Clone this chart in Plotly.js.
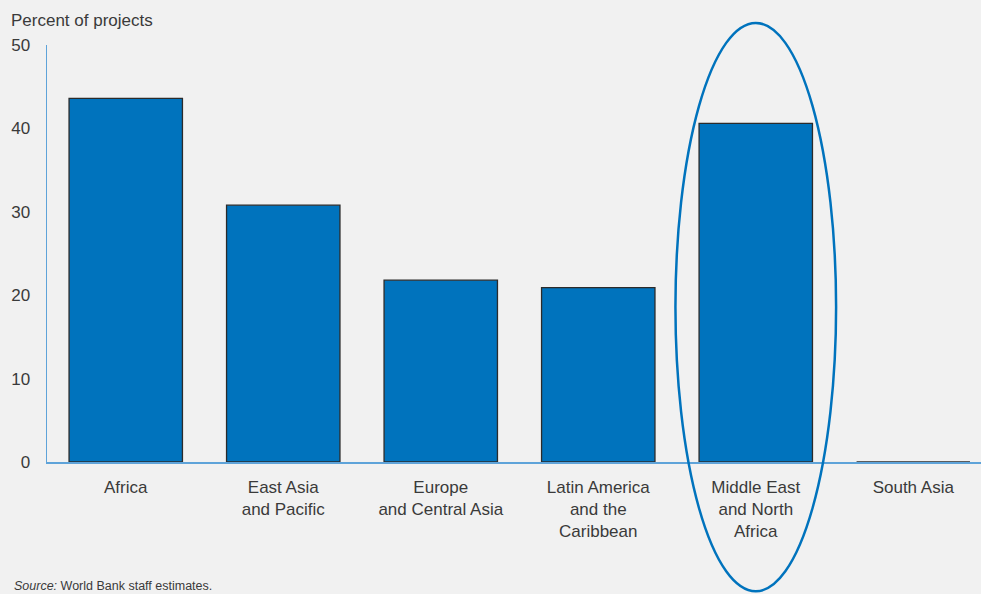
<!DOCTYPE html>
<html>
<head>
<meta charset="utf-8">
<script src="https://cdn.plot.ly/plotly-3.0.1.min.js"></script>
<style>
html,body{margin:0;padding:0;background:#f1f1f1;}
#chart{width:981px;height:594px;}
</style>
</head>
<body>
<div id="chart"></div>
<script>
const categories = ["Africa", "East Asia<br>and Pacific", "Europe<br>and Central Asia", "Latin America<br>and the<br>Caribbean", "Middle East<br>and North<br>Africa", "South Asia"];
const values = [43.6, 30.8, 21.8, 20.9, 40.6, 0];
const yTicks = [0, 10, 20, 30, 40, 50];
const highlightIndex = 4;

const font = "Liberation Sans, Arial, sans-serif";
const textColor = "#3a3a3a";
const barColor = "#0073bd";

const trace = {
  type: "bar",
  x: categories.map((c, i) => i),
  y: values,
  marker: {color: barColor, line: {color: "#2b2b2b", width: 1.3}},
  width: 0.72,
  hoverinfo: "skip"
};

const layout = {
  width: 981, height: 594,
  margin: {l: 47, r: 0, t: 45, b: 132},
  paper_bgcolor: "#f1f1f1",
  plot_bgcolor: "#f1f1f1",
  showlegend: false,
  font: {family: font, color: textColor, size: 17},
  xaxis: {
    range: [-0.5, 5.43],
    tickmode: "array",
    tickvals: categories.map((c, i) => i),
    ticktext: categories,
    showgrid: false, zeroline: false,
    showline: true, linecolor: "#5ea3d9", linewidth: 1.5,
    ticks: "", ticklabelstandoff: 9,
    tickfont: {size: 17, color: textColor},
    fixedrange: true
  },
  yaxis: {
    range: [0, 50],
    tickmode: "array",
    tickvals: yTicks,
    showgrid: false, zeroline: false,
    showline: true, linecolor: "#5ea3d9", linewidth: 1.5,
    ticks: "", ticklabelstandoff: 12,
    tickfont: {size: 17, color: textColor},
    fixedrange: true
  },
  shapes: [{
    type: "circle", xref: "x", yref: "paper",
    x0: highlightIndex - 0.51, x1: highlightIndex + 0.51,
    y0: -0.31, y1: 1.053,
    line: {color: barColor, width: 2.5},
    layer: "above"
  }],
  annotations: [
    {text: "Percent of projects", xref: "paper", yref: "paper", x: 0, y: 1, xshift: -38, yshift: 25,
     xanchor: "left", yanchor: "middle", showarrow: false, font: {size: 17, color: textColor}},
    {text: "<i>Source:</i> World Bank staff estimates.", xref: "paper", yref: "paper", x: 0, y: 0,
     xshift: -35, yshift: -124, xanchor: "left", yanchor: "middle", showarrow: false,
     font: {size: 12.5, color: textColor}}
  ]
};

Plotly.newPlot("chart", [trace], layout, {displayModeBar: false, staticPlot: true});
</script>
</body>
</html>
